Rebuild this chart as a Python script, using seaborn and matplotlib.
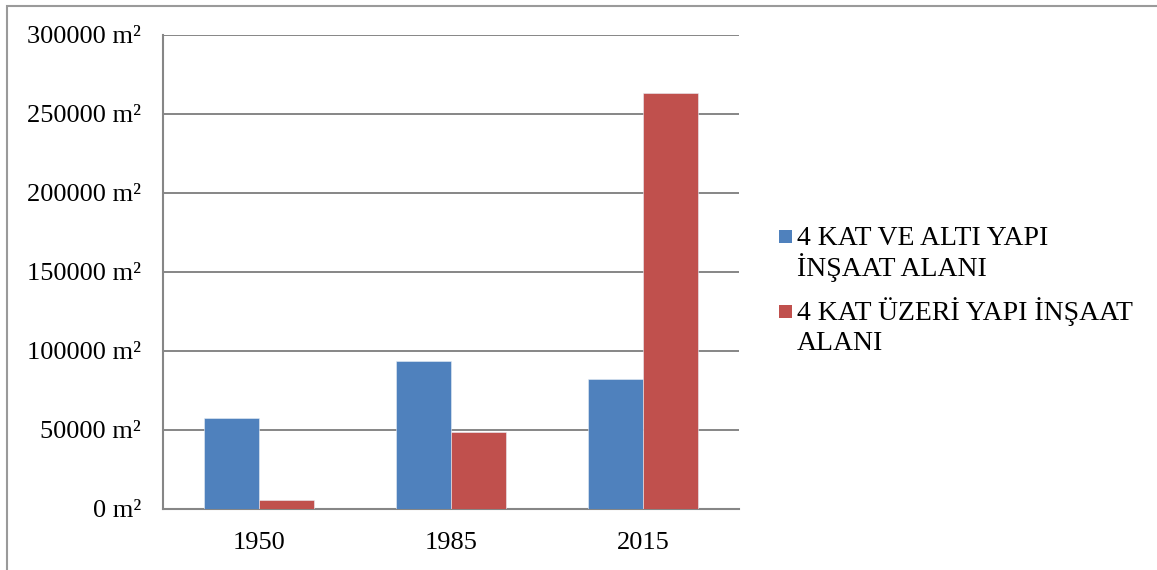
import matplotlib
matplotlib.use("Agg")
import matplotlib.pyplot as plt
import matplotlib.patches as mpatches
import pandas as pd
import seaborn as sns

years = ["1950", "1985", "2015"]
series_lines = [["4 KAT VE ALTI YAPI", "İNŞAAT ALANI"],
                ["4 KAT ÜZERİ YAPI İNŞAAT", "ALANI"]]
series_names = [" ".join(s) for s in series_lines]
low_rise = [57300, 93400, 81800]
high_rise = [5400, 48400, 262800]
y_ticks = [0, 50000, 100000, 150000, 200000, 250000, 300000]
colors = ["#4F81BD", "#C0504D"]

df = pd.DataFrame({
    "year": years * 2,
    "series": [series_names[0]] * 3 + [series_names[1]] * 3,
    "area": low_rise + high_rise,
})

sns.set_style("white")
plt.rcParams["font.family"] = ["Liberation Serif", "DejaVu Serif"]
plt.rcParams["text.color"] = "black"
plt.rcParams["xtick.color"] = "black"
plt.rcParams["ytick.color"] = "black"

FS = 19
LEG_FS = 20
W, H = 1157, 570
fig = plt.figure(figsize=(W / 100, H / 100), dpi=100)
ax = fig.add_axes([163 / W, (H - 508.5) / H, (739 - 163) / W, (508.5 - 34.5) / H])

sns.barplot(data=df, x="year", y="area", hue="series", palette=colors,
            width=0.575, saturation=1, ax=ax, legend=False, zorder=3,
            edgecolor="#e8eef6", linewidth=0.4)

grid_c = "#868686"
ax.set_ylim(0, 300000)
ax.set_xlim(-0.5, 2.5)
ax.set_yticks(y_ticks)
ax.set_yticklabels([f"{v} m²" for v in y_ticks], fontsize=FS)
ax.set_xticks([-0.5, 0.5, 1.5, 2.5], minor=False)
ax.set_xticklabels([])
ax.set_xticks([0, 1, 2], minor=True)
ax.set_xticklabels(years, minor=True, fontsize=FS)
ax.tick_params(axis="x", which="major", length=8, width=1.5, color=grid_c, direction="out")
ax.tick_params(axis="x", which="minor", length=0, pad=17)
ax.tick_params(axis="y", length=7, width=1.5, color=grid_c, direction="out", pad=9)
ax.set_xlabel("")
ax.set_ylabel("")
ax.yaxis.grid(True, color=grid_c, linewidth=1.4, zorder=0)
ax.set_axisbelow(True)
for side in ["top", "right"]:
    ax.spines[side].set_visible(False)
for side in ["left", "bottom"]:
    ax.spines[side].set_color(grid_c)
    ax.spines[side].set_linewidth(1.5)

# legend: square key aligned with the first line of each wrapped label
entry_baselines = [[245, 276], [320, 350]]
for color, lines, bases in zip(colors, series_lines, entry_baselines):
    fig.patches.append(mpatches.Rectangle((779 / W, (H - bases[0] + 2) / H),
                                          13 / W, 13 / H, transform=fig.transFigure,
                                          facecolor=color, edgecolor="none"))
    for line, b in zip(lines, bases):
        fig.text(797 / W, (H - b) / H, line, fontsize=LEG_FS, ha="left", va="baseline")

# outer chart frame
fig.patches.append(mpatches.Rectangle((7 / W, -0.1), 1.2, (H - 5.5) / H + 0.1,
                                      transform=fig.transFigure, fill=False,
                                      edgecolor="#9a9a9a", linewidth=1.5))

fig.savefig("out.png", dpi=100)
